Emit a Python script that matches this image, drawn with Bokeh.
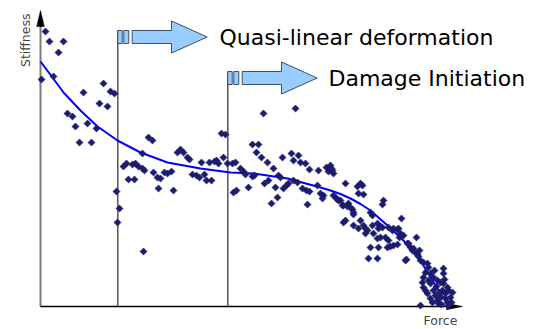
import math
from bokeh.plotting import figure
from bokeh.models import Range1d, Label, ColumnDataSource
from bokeh.embed import file_html
from bokeh.resources import INLINE

# ---- data (force, stiffness) in arbitrary units ----
force = [
    5, 9, 23, 18, 1, 13, 63, 43, 70, 74, 59, 67, 27, 32, 35, 47, 56, 39, 51,
    108, 112, 102, 83, 86, 92, 95, 98, 102, 104, 88, 94, 113, 117, 120, 118, 124, 127, 131, 133,
    137, 140, 143, 147, 149, 152, 156, 159, 161, 164, 166, 171, 169, 174, 176, 178, 181, 185, 183,
    187, 192, 195, 193, 196, 76, 79, 77, 103,
    223, 255, 212, 218, 216, 221, 227, 200, 203, 205, 212, 214, 233, 238, 240, 251, 258, 253, 260,
    265, 242, 269, 278, 286, 290, 292, 288, 208, 224, 228, 235, 243, 246, 248, 237, 231, 253, 257,
    262, 266, 269, 267, 277, 280, 283, 282, 295, 297, 300, 305, 303, 307,
    291, 293, 317, 320, 322, 318, 323, 293, 298, 302, 308, 310, 312, 313, 313, 305, 303, 320, 330,
    332, 343, 342, 361, 323, 325, 327, 333, 332, 337, 340, 338, 342, 348, 353, 358, 352, 357, 360,
    363, 359, 345, 348, 347, 350, 353, 357, 338, 337, 366, 376, 368, 370, 372, 373, 375, 377, 379,
    378, 380, 383, 387, 388, 385, 383, 382, 383, 385, 403, 403, 390, 393, 397, 400, 403, 407, 408,
    405, 400, 397, 398, 407, 410, 390, 393, 387, 390, 395, 402, 405, 408, 380, 367, 365, 313, 318,
    325, 330, 328, 337, 340, 396, 399, 404, 392, 401, 411, 388, 394, 412,
]
stiffness = [
    275, 265, 265, 254, 227, 230, 223, 214, 215, 213, 203, 200, 193, 190, 180, 183, 178, 164, 164,
    169, 166, 153, 140, 143, 142, 143, 140, 138, 136, 127, 127, 134, 129, 128, 118, 134, 133, 135, 116,
    154, 157, 154, 149, 147, 132, 131, 129, 144, 132, 126, 126, 144, 145, 146, 143, 173, 172, 149,
    143, 143, 144, 114, 116, 115, 98, 84, 55,
    193, 198, 162, 162, 154, 149, 144, 138, 135, 132, 130, 131, 138, 131, 129, 153, 151, 146, 144,
    143, 149, 137, 136, 139, 141, 136, 135, 119, 123, 126, 119, 118, 121, 123, 109, 103, 126, 124,
    118, 116, 115, 102, 121, 113, 111, 108, 109, 107, 106, 123, 101, 100,
    138, 133, 120, 123, 121, 113, 112, 111, 106, 101, 103, 99, 97, 94, 92, 86, 84, 86, 94,
    91, 106, 102, 88, 81, 78, 76, 73, 81, 83, 80, 78, 79, 79, 78, 78, 76, 77, 73,
    71, 69, 69, 66, 59, 60, 61, 62, 59, 48, 47, 69, 63, 59, 56, 58, 54, 52, 56,
    50, 46, 44, 43, 39, 34, 29, 24, 19, 16, 38, 33, 33, 29, 26, 24, 23, 19, 16,
    13, 9, 6, 3, 4, 9, 23, 16, 13, 8, 11, 16, 8, 1, 1, 63, 46, 81, 78,
    73, 59, 48, 68, 69, 20, 14, 27, 4, 2, 4, 26, 36, 14,
]

# fitted trend curve
fit_force = [0, 12, 23, 40, 57, 77, 100, 127, 160, 190, 213, 247, 280, 290, 300, 310, 320, 330, 347, 363, 380, 390, 400, 407]
fit_stiffness = [245, 229, 214, 196, 180, 166, 154, 144, 138, 134, 133, 128, 119, 116, 112.5, 108, 102.5, 96, 81, 66, 46, 29, 13, 3]

# phase boundaries (force) and labels
phase_force = [77.3, 187.3]
phase_top = [276, 235]
phase_labels = ["Quasi-linear deformation", "Damage Initiation"]
x_label = "Force"
y_label = "Stiffness"

W, H = 533, 329
p = figure(width=W, height=H, output_backend="svg", toolbar_location=None,
           x_range=Range1d(-40, 493), y_range=Range1d(-23, 306),
           x_axis_location=None, y_axis_location=None, min_border=0,
           background_fill_color="white", border_fill_color="white")
p.outline_line_color = None
p.xgrid.visible = False
p.ygrid.visible = False

# axes (drawn as lines with arrow heads)
p.segment(x0=[0], y0=[0], x1=[0], y1=[282], line_color="#7a7a7a", line_width=2)
p.segment(x0=[0], y0=[0], x1=[407], y1=[0], line_color="#000000", line_width=1.6)
p.patch(x=[-3.8, 3.8, 0], y=[280, 280, 296], fill_color="black", line_color="black", line_width=0.5)
p.patch(x=[406, 406, 422], y=[-3.2, 3.2, 0], fill_color="black", line_color="black", line_width=0.5)

# phase boundary lines
p.segment(x0=phase_force, y0=[0, 0], x1=phase_force, y1=phase_top,
          line_color="#555555", line_width=1.5)

# phase arrows
arrow_fill = "#99ccff"
arrow_line = "#3d4e66"
for fx, top in zip(phase_force, phase_top):
    cy = top - 6.5
    bh = 6.5
    hh = 16
    p.quad(left=[fx, fx + 6], right=[fx + 4.4, fx + 11], bottom=[cy - bh] * 2, top=[cy + bh] * 2,
           fill_color=arrow_fill, line_color=arrow_line, line_width=1)
    p.patch(x=[fx + 14.4, fx + 53.7, fx + 53.7, fx + 89.4, fx + 53.7, fx + 53.7, fx + 14.4],
            y=[cy - bh, cy - bh, cy - hh, cy, cy + hh, cy + bh, cy + bh],
            fill_color=arrow_fill, line_color=arrow_line, line_width=1)

# trend curve
p.line(fit_force, fit_stiffness, line_color="#0000ff", line_width=2)

# scatter points
src = ColumnDataSource(dict(x=force, y=stiffness))
p.scatter("x", "y", source=src, marker="square", angle=math.pi / 4, size=5.0,
          fill_color="#1c1c6e", line_color="#1c1c6e", line_width=0.6)

# texts
p.add_layout(Label(x=179, y=269.5, text=phase_labels[0], text_font="DejaVu Sans",
                   text_font_size="22px", text_color="black", text_baseline="alphabetic"))
p.add_layout(Label(x=288, y=228, text=phase_labels[1], text_font="DejaVu Sans",
                   text_font_size="22px", text_color="black", text_baseline="alphabetic"))
p.add_layout(Label(x=-15, y=293, text=y_label, angle=math.pi / 2, text_align="right",
                   text_baseline="alphabetic", text_font="DejaVu Sans", text_font_size="12.5px",
                   text_color="#444444"))
p.add_layout(Label(x=383, y=-21, text=x_label, text_align="left", text_baseline="bottom",
                   text_font="DejaVu Sans", text_font_size="12.5px", text_color="#444444"))

open("out.html", "w").write(file_html(p, INLINE))
